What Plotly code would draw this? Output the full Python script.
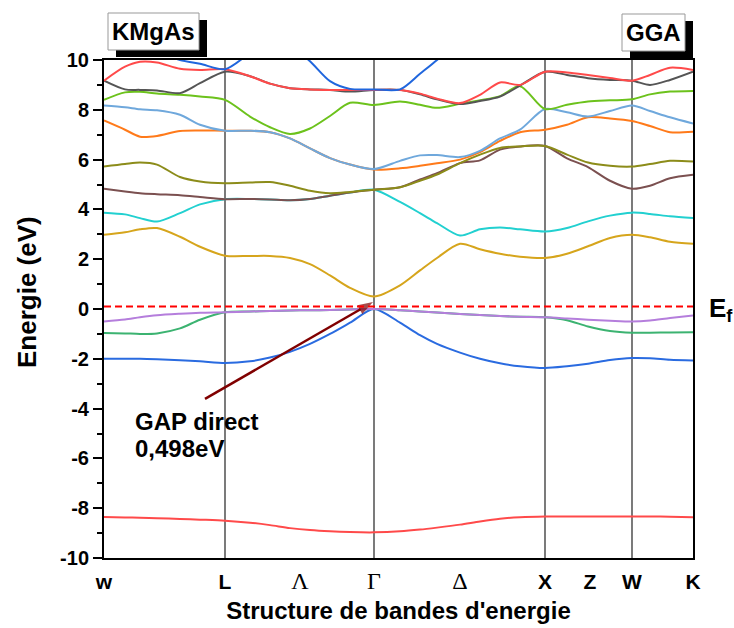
import plotly.graph_objects as go

# ---------------- data ----------------
# k-path coordinate (arb. units) of the sampled points
k_path = [0.00, 0.21, 0.36, 0.53, 0.76, 0.96, 1.21, 1.46, 1.66, 1.86, 2.06, 2.26, 2.46, 2.70,
          2.96, 3.16, 3.33, 3.56, 3.76, 3.96, 4.16, 4.41, 4.63, 4.84, 5.06, 5.28, 5.46, 5.66, 5.89]

# high-symmetry labels and positions
sym_labels = ["w", "L", "Λ", "Γ", "Δ", "X", "Z", "W", "K"]
sym_pos = [0.00, 1.21, 1.96, 2.70, 3.56, 4.41, 4.86, 5.28, 5.89]
vline_pos = [1.21, 2.70, 4.41, 5.28]
greek_labels = ["Λ", "Γ", "Δ"]

# energy axis ticks
y_ticks = [-10, -8, -6, -4, -2, 0, 2, 4, 6, 8, 10]
y_ticklabels = ["-10", "-8", "-6", "-4", "-2", "0", "2", "4", "6", "8", "10"]

fermi_level = 0.1

band01 = [-8.35, -8.37, -8.38, -8.40, -8.43, -8.46, -8.50, -8.58, -8.68, -8.80, -8.88, -8.93, -8.96, -8.97,
          -8.93, -8.86, -8.78, -8.66, -8.53, -8.42, -8.36, -8.33, -8.33, -8.33, -8.33, -8.33, -8.33, -8.34, -8.36]
band02 = [-2.00, -2.00, -2.00, -2.02, -2.06, -2.10, -2.17, -2.10, -1.95, -1.72, -1.40, -1.00, -0.55, 0.00,
          -0.55, -1.05, -1.40, -1.75, -2.00, -2.18, -2.30, -2.37, -2.30, -2.20, -2.05, -1.97, -1.98, -2.04, -2.07]
band03 = [-0.96, -0.98, -1.00, -0.98, -0.78, -0.43, -0.13, -0.10, -0.08, -0.06, -0.05, -0.04, -0.02, 0.00,
          -0.05, -0.10, -0.14, -0.20, -0.24, -0.28, -0.31, -0.33, -0.45, -0.70, -0.88, -0.95, -0.95, -0.94, -0.93]
band04 = [-0.50, -0.42, -0.33, -0.25, -0.19, -0.15, -0.13, -0.10, -0.08, -0.06, -0.05, -0.04, -0.02, 0.00,
          -0.05, -0.10, -0.14, -0.20, -0.24, -0.28, -0.31, -0.33, -0.38, -0.43, -0.47, -0.50, -0.46, -0.36, -0.26]
band05 = [2.98, 3.08, 3.20, 3.25, 2.90, 2.50, 2.14, 2.13, 2.13, 2.05, 1.80, 1.35, 0.85, 0.50,
          0.95, 1.55, 2.05, 2.62, 2.40, 2.22, 2.10, 2.05, 2.22, 2.52, 2.85, 2.98, 2.88, 2.70, 2.62]
band06 = [3.87, 3.80, 3.65, 3.51, 3.85, 4.20, 4.41, 4.42, 4.40, 4.37, 4.42, 4.55, 4.68, 4.79,
          4.30, 3.85, 3.45, 2.95, 3.20, 3.27, 3.20, 3.11, 3.25, 3.52, 3.75, 3.87, 3.82, 3.72, 3.65]
band07 = [4.83, 4.72, 4.65, 4.61, 4.57, 4.50, 4.41, 4.42, 4.40, 4.37, 4.42, 4.55, 4.68, 4.79,
          4.89, 5.20, 5.45, 5.86, 5.97, 6.40, 6.53, 6.55, 6.05, 5.70, 5.15, 4.83, 4.95, 5.25, 5.39]
band08 = [5.72, 5.82, 5.88, 5.80, 5.30, 5.12, 5.05, 5.08, 5.10, 4.95, 4.75, 4.65, 4.70, 4.79,
          4.89, 5.15, 5.40, 5.86, 6.20, 6.47, 6.53, 6.55, 6.20, 5.88, 5.75, 5.72, 5.82, 5.95, 5.92]
band09 = [7.57, 7.20, 6.92, 6.95, 7.15, 7.17, 7.16, 7.16, 7.10, 6.85, 6.45, 6.06, 5.80, 5.60,
          5.65, 5.75, 5.85, 6.00, 6.30, 6.75, 7.10, 7.20, 7.40, 7.70, 7.65, 7.55, 7.35, 7.10, 7.12]
band10 = [8.17, 8.10, 8.02, 7.98, 7.80, 7.40, 7.16, 7.16, 7.10, 6.85, 6.45, 6.06, 5.80, 5.62,
          5.95, 6.17, 6.18, 6.10, 6.35, 6.85, 7.20, 8.03, 7.90, 7.73, 7.95, 8.17, 7.95, 7.70, 7.45]
band11 = [8.40, 8.70, 8.72, 8.65, 8.60, 8.53, 8.40, 7.73, 7.30, 7.03, 7.25, 7.75, 8.28, 8.19,
          8.33, 8.20, 8.08, 8.24, 8.38, 8.55, 8.95, 8.03, 8.20, 8.33, 8.38, 8.42, 8.62, 8.73, 8.76]
band12 = [9.17, 9.73, 9.93, 9.90, 9.65, 9.60, 9.63, 9.35, 9.05, 8.87, 8.82, 8.80, 8.80, 8.80,
          8.80, 8.65, 8.45, 8.27, 8.60, 9.10, 9.00, 9.53, 9.50, 9.40, 9.28, 9.17, 9.40, 9.69, 9.60]
band13 = [9.17, 8.82, 8.80, 8.78, 8.67, 9.07, 9.53, 9.35, 9.05, 8.87, 8.82, 8.80, 8.73, 8.80,
          8.80, 8.62, 8.42, 8.23, 8.35, 8.53, 8.97, 9.53, 9.40, 9.27, 9.20, 9.17, 9.00, 9.20, 9.53]
band14 = [11.5, 11.0, 10.7, 10.35, 10.0, 9.85, 9.63, 10.3, 11.0, 10.6, 9.95, 9.15, 8.84, 8.82,
          8.82, 9.45, 10.0, 10.9, 11.6, None, None, None, None, None, None, None, None, None, None]

# drawing order and colours
bands = [band01, band02, band03, band04, band05, band06, band07, band08,
         band09, band10, band11, band13, band12, band14]
band_colors = ["#FF4A4A", "#2A6BE0", "#3CB371", "#B57EDC", "#D6A51C", "#22D0D0", "#7B5050", "#8C8C1A",
               "#FF7A1A", "#6FA8DC", "#6CC21C", "#555555", "#FF4A4A", "#2066DD"]

gap_text = ["GAP direct", "0,498eV"]
gap_text_k = [0.29, 0.29]
gap_text_e = [-4.52, -5.62]
arrow_k = [1.01, 2.69]
arrow_e = [-3.61, 0.28]

# ---------------- figure ----------------
SANS = "Liberation Sans, Arial, sans-serif"

fig = go.Figure()
for b, c in zip(bands, band_colors):
    fig.add_trace(go.Scatter(x=k_path, y=b, mode="lines",
                             line=dict(color=c, width=2, shape="spline", smoothing=0.8),
                             hoverinfo="skip", showlegend=False, connectgaps=False))

# gap arrow (line + arrow-head marker at the end)
fig.add_trace(go.Scatter(x=arrow_k, y=arrow_e, mode="lines+markers",
                         line=dict(color="#800000", width=2.5),
                         marker=dict(symbol="arrow", angleref="previous", size=[0, 16],
                                     color="#800000", line=dict(width=0)),
                         hoverinfo="skip", showlegend=False, cliponaxis=False))

# vertical lines at high-symmetry points
for xv in vline_pos:
    fig.add_shape(type="line", xref="x", yref="paper", x0=xv, x1=xv, y0=0, y1=1,
                  line=dict(color="#333333", width=1.3), layer="below")

# Fermi level
fig.add_shape(type="line", xref="paper", yref="y", x0=0, x1=1, y0=fermi_level, y1=fermi_level,
              line=dict(color="#FF0000", width=2, dash="7px,4px"), layer="above")

ticktext = []
for lab in sym_labels:
    if lab in greek_labels:
        ticktext.append("<span style='font-family:Liberation Serif;font-weight:normal;font-size:24px'>%s</span>" % lab)
    else:
        ticktext.append(lab)

fig.update_xaxes(range=[0, 5.89], showline=True, linewidth=2, linecolor="black", mirror=True,
                 ticks="", tickvals=sym_pos, ticktext=ticktext, showgrid=False, zeroline=False,
                 tickfont=dict(family=SANS, size=21, color="black", weight="bold"),
                 ticklabelstandoff=4, automargin=False,
                 title=dict(text="Structure de bandes d'energie", standoff=9,
                            font=dict(family=SANS, size=24, color="black", weight="bold")))
fig.update_yaxes(range=[-10, 10], tickmode="array", tickvals=y_ticks, ticktext=y_ticklabels,
                 showline=True, linewidth=2, linecolor="black", automargin=False,
                 mirror=True, ticks="outside", ticklen=9, tickwidth=2, tickcolor="black",
                 minor=dict(ticks="outside", ticklen=5, tickwidth=1.5, dtick=1, tick0=0, tickcolor="black"),
                 showgrid=False, zeroline=False,
                 tickfont=dict(family=SANS, size=20, color="black", weight="bold"))

for t, xk, ye in zip(gap_text, gap_text_k, gap_text_e):
    fig.add_annotation(x=xk, y=ye, xref="x", yref="y", text=t, showarrow=False,
                       xanchor="left", yanchor="middle",
                       font=dict(family=SANS, size=24, color="black", weight="bold"))

# pixel -> paper conversion helpers
L_, T_, W_, H_ = 104, 60, 589, 498
def px(xp):
    return (xp - L_) / W_
def py(yp):
    return (T_ + H_ - yp) / H_

# energy axis title
fig.add_annotation(x=px(27), y=py(292), xref="paper", yref="paper", text="Energie (eV)",
                   showarrow=False, textangle=-90, xanchor="center", yanchor="middle",
                   font=dict(family=SANS, size=26, color="black", weight="bold"))

# E_f label
fig.add_annotation(x=px(707), y=0.0, xref="paper", yref="y", text="E<sub>f</sub>", showarrow=False,
                   xanchor="left", yanchor="middle",
                   font=dict(family=SANS, size=26, color="black", weight="bold"))

# boxed labels with shadow
for (x0, y0, x1, y1, label) in [(108, 13, 199, 50, "KMgAs"), (622, 14, 685, 51, "GGA")]:
    fig.add_shape(type="rect", xref="paper", yref="paper",
                  x0=px(x0 + 8), x1=px(x1 + 8), y0=py(y1 + 7), y1=py(y0 + 7),
                  fillcolor="black", line=dict(width=0), layer="above")
    fig.add_shape(type="rect", xref="paper", yref="paper",
                  x0=px(x0), x1=px(x1), y0=py(y1), y1=py(y0),
                  fillcolor="white", line=dict(color="#999999", width=1), layer="above")
    fig.add_annotation(x=px((x0 + x1) / 2), y=py((y0 + y1) / 2), xref="paper", yref="paper",
                       text=label, showarrow=False, xanchor="center", yanchor="middle",
                       font=dict(family=SANS, size=24, color="black", weight="bold"))

fig.update_layout(width=734, height=628, margin=dict(l=104, r=41, t=60, b=70),
                  plot_bgcolor="white", paper_bgcolor="white", showlegend=False)

fig.write_html("out.html")
